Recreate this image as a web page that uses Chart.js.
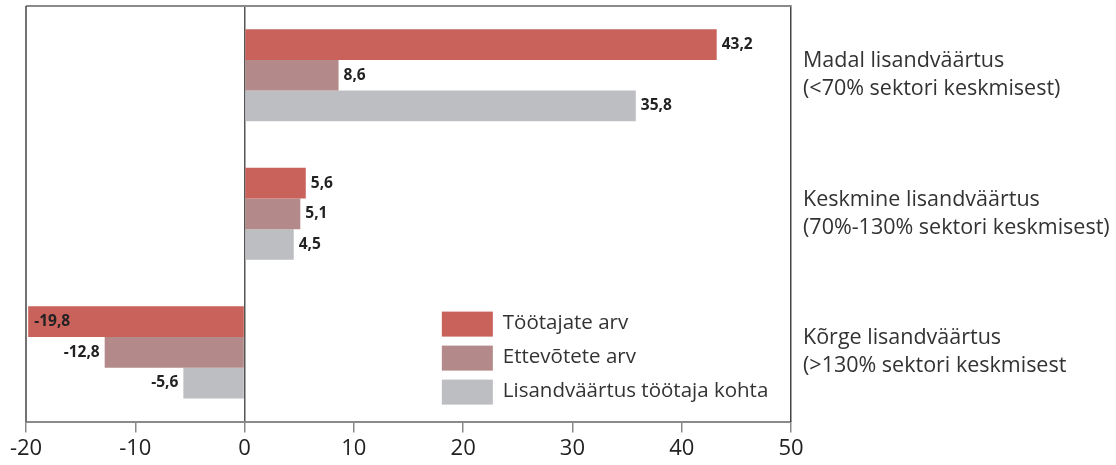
<!DOCTYPE html>
<html>
<head>
<meta charset="utf-8">
<script src="https://cdn.jsdelivr.net/npm/chart.js@4"></script>
<style>
  html, body { margin: 0; padding: 0; background: #fff; }
  #wrap { width: 1116px; height: 465px; }
</style>
</head>
<body>
<div id="wrap"><canvas id="chart"></canvas></div>
<script>
// Categories (two-line labels on the right side)
const categories = [
    ['Madal lisandväärtus', '(<70% sektori keskmisest)'],
    ['Keskmine lisandväärtus', '(70%-130% sektori keskmisest)'],
    ['Kõrge lisandväärtus', '(>130% sektori keskmisest']
];
const seriesNames = ['Töötajate arv', 'Ettevõtete arv', 'Lisandväärtus töötaja kohta'];
const tootajateArv = [43.2, 5.6, -19.8];
const ettevotteteArv = [8.6, 5.1, -12.8];
const lisandvaartus = [35.8, 4.5, -5.6];
const xTicks = [-20, -10, 0, 10, 20, 30, 40, 50];

const colors = ['#c8625a', '#b38a89', '#bdbec2'];
const FONT = '"Open Sans", "Noto Sans", sans-serif';

const fmt = v => v.toFixed(1).replace('.', ',');

// value labels next to each bar end
const valueLabels = {
    id: 'valueLabels',
    afterDatasetsDraw(chart) {
        const ctx = chart.ctx;
        const area = chart.chartArea;
        ctx.save();
        ctx.font = 'bold 15.5px ' + FONT;
        ctx.fillStyle = '#222';
        ctx.textBaseline = 'middle';
        chart.data.datasets.forEach((ds, i) => {
            chart.getDatasetMeta(i).data.forEach((bar, j) => {
                const v = ds.data[j];
                const txt = fmt(v);
                const w = ctx.measureText(txt).width;
                if (v >= 0) {
                    ctx.textAlign = 'left';
                    ctx.fillText(txt, bar.x + 5, bar.y);
                } else if (bar.x - 5 - w < area.left) {
                    ctx.textAlign = 'left';
                    ctx.fillText(txt, bar.x + 6, bar.y);
                } else {
                    ctx.textAlign = 'right';
                    ctx.fillText(txt, bar.x - 5, bar.y);
                }
            });
        });
        ctx.restore();
    }
};

// frame lines, category labels on the right, legend inside the plot
const frameAndLegend = {
    id: 'frameAndLegend',
    afterDraw(chart) {
        const ctx = chart.ctx;
        const a = chart.chartArea;
        ctx.save();
        ctx.lineWidth = 2;
        ctx.strokeStyle = '#8a8a8a';
        ctx.beginPath();
        ctx.moveTo(a.left, a.top);
        ctx.lineTo(a.right, a.top);
        ctx.stroke();
        ctx.lineWidth = 1.5;
        ctx.strokeStyle = '#444';
        ctx.beginPath();
        ctx.moveTo(a.left, a.top);
        ctx.lineTo(a.left, a.bottom);
        ctx.stroke();

        // category labels
        const yScale = chart.scales.y;
        ctx.font = '21.5px ' + FONT;
        ctx.fillStyle = '#333';
        ctx.textAlign = 'left';
        ctx.textBaseline = 'middle';
        categories.forEach((lines, i) => {
            const yc = yScale.getPixelForValue(i);
            lines.forEach((line, k) => {
                ctx.fillText(line, a.right + 12, yc + (k - (lines.length - 1) / 2) * 28);
            });
        });

        // legend
        const x0 = chart.scales.x.getPixelForValue(18.05);
        const y0 = a.bottom - 110;
        ctx.font = '20.5px ' + FONT;
        seriesNames.forEach((name, i) => {
            const y = y0 + i * 34;
            ctx.fillStyle = colors[i];
            ctx.fillRect(x0, y, 51, 25);
            ctx.fillStyle = '#333';
            ctx.fillText(name, x0 + 61, y + 12);
        });
        ctx.restore();
    }
};

new Chart(document.getElementById('chart'), {
    type: 'bar',
    data: {
        labels: categories,
        datasets: [
            { label: seriesNames[0], data: tootajateArv, backgroundColor: colors[0] },
            { label: seriesNames[1], data: ettevotteteArv, backgroundColor: colors[1] },
            { label: seriesNames[2], data: lisandvaartus, backgroundColor: colors[2] }
        ]
    },
    options: {
        indexAxis: 'y',
        responsive: true,
        maintainAspectRatio: false,
        animation: false,
        datasets: { bar: { categoryPercentage: 0.665, barPercentage: 1 } },
        layout: { padding: { left: 26, top: 6, right: 0, bottom: 0 } },
        scales: {
            x: {
                min: -20,
                max: 50,
                afterBuildTicks: axis => { axis.ticks = xTicks.map(v => ({ value: v })); },
                grid: {
                    color: c => (c.tick && c.tick.value === 0) ? '#555' : 'transparent',
                    lineWidth: 1.5,
                    tickColor: '#8a8a8a',
                    tickLength: 11,
                    drawOnChartArea: true
                },
                border: { color: '#8a8a8a', width: 2 },
                ticks: {
                    font: { family: FONT, size: 22 },
                    color: '#222',
                    padding: 3
                }
            },
            y: {
                position: 'right',
                afterFit: axis => { axis.width = 325; },
                grid: { display: false, drawTicks: false },
                border: { color: '#444', width: 1.5 },
                ticks: { display: false }
            }
        },
        plugins: {
            legend: { display: false },
            tooltip: { enabled: false }
        }
    },
    plugins: [valueLabels, frameAndLegend]
});
</script>
</body>
</html>
